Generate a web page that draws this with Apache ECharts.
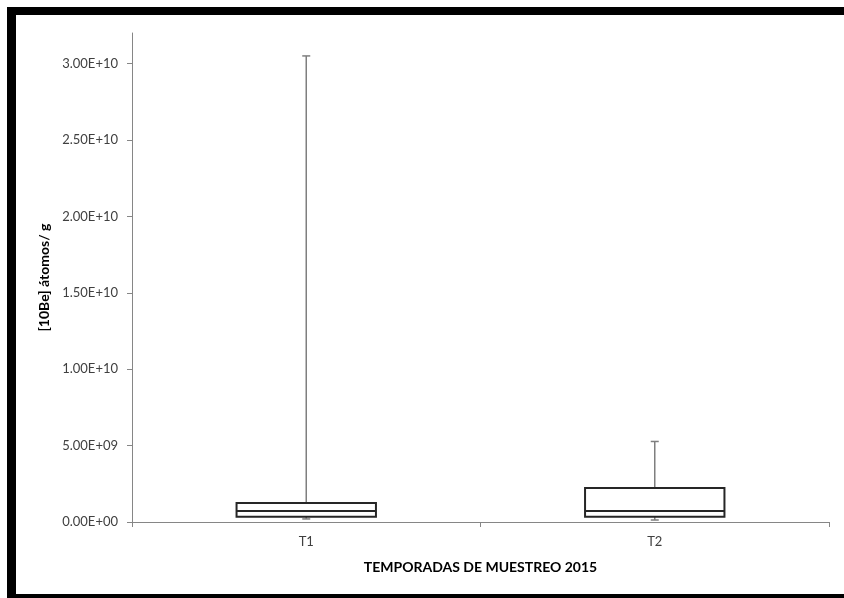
<!DOCTYPE html>
<html>
<head>
<meta charset="utf-8">
<script src="https://cdn.jsdelivr.net/npm/echarts@6/dist/echarts.min.js"></script>
<style>
  html, body { margin: 0; padding: 0; background: #fff; overflow: hidden; }
  #main { position: absolute; left: 0; top: 0; width: 844px; height: 598px; }
  .frame { position: absolute; background: #000; pointer-events: none; }
</style>
</head>
<body>
<div id="main"></div>
<div class="frame" style="left:7px; top:7px; width:840px; height:8px;"></div>
<div class="frame" style="left:7px; top:7px; width:9px; height:595px;"></div>
<div class="frame" style="left:7px; top:594px; width:840px; height:6px;"></div>
<script>
// temporadas
var categories = ['T1', 'T2'];
// estadisticos de cada caja
var minVals = [2.0e8, 1.3e8];
var q1Vals = [3.5e8, 3.5e8];
var medianVals = [7.2e8, 7.2e8];
var q3Vals = [1.24e9, 2.22e9];
var maxVals = [3.05e10, 5.27e9];
// marcas del eje y
var yTicks = [0, 5e9, 1e10, 1.5e10, 2e10, 2.5e10, 3e10];

var boxData = categories.map(function (c, i) {
    return [i, minVals[i], q1Vals[i], medianVals[i], q3Vals[i], maxVals[i]];
});

function sciLabel(v) {
    var s = Number(v).toExponential(2).toUpperCase();
    var parts = s.split('E');
    var sign = parts[1].charAt(0);
    var exp = parts[1].slice(1);
    if (exp.length < 2) exp = '0' + exp;
    return parts[0] + 'E' + sign + exp;
}

var myChart = echarts.init(document.getElementById('main'));

var option = {
    animation: false,
    grid: { left: 132, top: 33, right: 15, bottom: 76 },
    xAxis: {
        type: 'category',
        data: categories,
        name: 'TEMPORADAS DE MUESTREO 2015',
        nameLocation: 'middle',
        nameGap: 38,
        nameTextStyle: { fontFamily: 'Lato', fontWeight: 'bold', fontSize: 14, color: '#000' },
        axisLine: { lineStyle: { color: '#868686', width: 1 } },
        axisTick: { show: true, length: 5, lineStyle: { color: '#868686' } },
        axisLabel: { fontFamily: 'Lato', fontSize: 13, color: '#404040', margin: 13 },
        splitLine: { show: false }
    },
    yAxis: {
        type: 'value',
        min: 0,
        max: 3.2e10,
        interval: 5e9,
        name: '[10Be] átomos/ g',
        nameLocation: 'middle',
        nameGap: 80,
        nameTextStyle: { fontFamily: 'Lato', fontWeight: 'bold', fontSize: 14, color: '#000' },
        axisLine: { show: true, lineStyle: { color: '#868686', width: 1 } },
        axisTick: { show: true, length: 5, lineStyle: { color: '#868686' }, customValues: yTicks },
        axisLabel: {
            fontFamily: 'Lato', fontSize: 13, color: '#404040', margin: 14,
            customValues: yTicks,
            formatter: sciLabel
        },
        splitLine: { show: false }
    },
    series: [
        {
            type: 'custom',
            data: boxData,
            renderItem: function (params, api) {
                var x = api.value(0);
                var pMin = api.coord([x, api.value(1)]);
                var pQ1 = api.coord([x, api.value(2)]);
                var pMed = api.coord([x, api.value(3)]);
                var pQ3 = api.coord([x, api.value(4)]);
                var pMax = api.coord([x, api.value(5)]);
                var half = api.size([1, 0])[0] * 0.2;
                var cap = 4;
                var cx = pMed[0];
                var whisker = { stroke: '#7f7f7f', lineWidth: 1.5 };
                return {
                    type: 'group',
                    children: [
                        { type: 'line', shape: { x1: cx, y1: pQ3[1], x2: cx, y2: pMax[1] }, style: whisker },
                        { type: 'line', shape: { x1: cx - cap, y1: pMax[1], x2: cx + cap, y2: pMax[1] }, style: whisker },
                        { type: 'line', shape: { x1: cx, y1: pQ1[1], x2: cx, y2: pMin[1] }, style: whisker },
                        { type: 'line', shape: { x1: cx - cap, y1: pMin[1], x2: cx + cap, y2: pMin[1] }, style: whisker },
                        {
                            type: 'rect',
                            shape: { x: cx - half, y: pQ3[1], width: half * 2, height: pQ1[1] - pQ3[1] },
                            style: { fill: '#fff', stroke: '#262626', lineWidth: 2 }
                        },
                        { type: 'line', shape: { x1: cx - half, y1: pMed[1], x2: cx + half, y2: pMed[1] }, style: { stroke: '#262626', lineWidth: 2 } }
                    ]
                };
            }
        }
    ]
};

option && myChart.setOption(option);
</script>
</body>
</html>
